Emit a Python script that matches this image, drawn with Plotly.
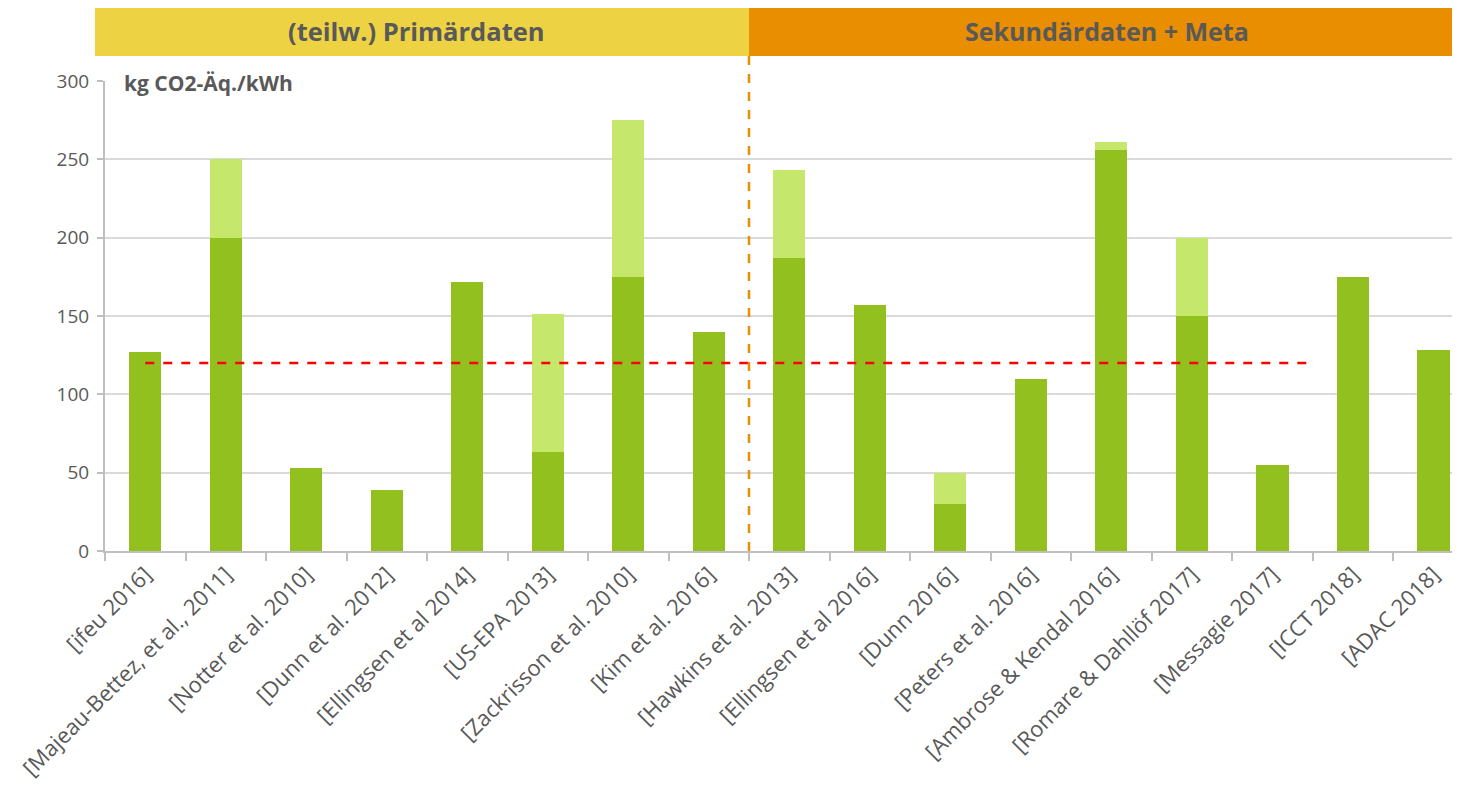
import plotly.graph_objects as go

categories = [
    "[ifeu 2016]", "[Majeau-Bettez, et al., 2011]", "[Notter et al. 2010]",
    "[Dunn et al. 2012]", "[Ellingsen et al 2014]", "[US-EPA 2013]",
    "[Zackrisson et al. 2010]", "[Kim et al. 2016]", "[Hawkins et al. 2013]",
    "[Ellingsen et al 2016]", "[Dunn 2016]", "[Peters et al. 2016]",
    "[Ambrose & Kendal 2016]", "[Romare & Dahllöf 2017]", "[Messagie 2017]",
    "[ICCT 2018]", "[ADAC 2018]",
]
base_values = [127, 200, 53, 39, 172, 63, 175, 140, 187, 157, 30, 110, 256, 150, 55, 175, 128]
upper_values = [None, 250, None, None, None, 151, 275, None, 243, None, 50, None, 261, 200, None, None, None]
reference_value = 120
group_labels = ["(teilw.) Primärdaten", "Sekundärdaten + Meta"]
y_label = "kg CO2-Äq./kWh"

extra_values = [(u - b) if u is not None else 0 for b, u in zip(base_values, upper_values)]

DARK_GREEN = "#92C01F"
LIGHT_GREEN = "#C5E76B"
TEXT = "#595959"
GRID = "#D9D9D9"
AXIS = "#BFBFBF"
FONT = "Open Sans"

OFF = 8  # page body margin
FIG_W, FIG_H = 1460 - OFF, 796 - 2 * OFF
L_PAGE, T_PAGE, H = 105, 81, 470
L = L_PAGE - OFF
T = T_PAGE - OFF
W = FIG_W - L

def px(p):
    return (p - L_PAGE) / W

def py(p):
    return (T_PAGE + H - p) / H

fig = go.Figure()
fig.add_trace(go.Bar(x=categories, y=base_values, marker_color=DARK_GREEN,
                     marker_line_width=0, width=0.4, showlegend=False))
fig.add_trace(go.Bar(x=categories, y=extra_values, marker_color=LIGHT_GREEN,
                     marker_line_width=0, width=0.4, showlegend=False))

# reference line (red dashed)
fig.add_trace(go.Scatter(x=[0, 14.5], y=[reference_value, reference_value], mode="lines",
                         line=dict(color="#FF0000", width=2.5, dash="dash"),
                         showlegend=False, hoverinfo="skip", xaxis="x2"))

split = px(749)
shapes = [
    dict(type="rect", xref="paper", yref="paper", x0=px(95), x1=1.0, y0=py(56), y1=py(8),
         fillcolor="#EDD244", line_width=0, layer="below"),
    dict(type="rect", xref="paper", yref="paper", x0=split, x1=1.0, y0=py(56), y1=py(8),
         fillcolor="#E88E00", line_width=0, layer="below"),
    dict(type="line", xref="paper", yref="paper", x0=split, x1=split, y0=py(56), y1=py(556),
         line=dict(color="#E88E00", width=2.5, dash="dash")),
]

annotations = [
    dict(text=f"<b>{group_labels[0]}</b>", xref="paper", yref="paper", x=px(416), y=py(31),
         xanchor="center", yanchor="middle",
         showarrow=False, font=dict(family=FONT, size=25.5, color=TEXT)),
    dict(text=f"<b>{group_labels[1]}</b>", xref="paper", yref="paper", x=px(1107), y=py(31),
         xanchor="center", yanchor="middle",
         showarrow=False, font=dict(family=FONT, size=25, color=TEXT)),
    dict(text=f"<b>{y_label}</b>", xref="paper", yref="paper", x=px(122), y=py(83),
         xanchor="left", yanchor="middle", showarrow=False, bgcolor="white",
         font=dict(family=FONT, size=21, color=TEXT)),
]

fig.update_layout(
    width=FIG_W, height=FIG_H,
    margin=dict(l=L, r=0, t=T, b=FIG_H - T - H, pad=0),
    barmode="stack",
    plot_bgcolor="white", paper_bgcolor="white",
    font=dict(family=FONT, size=19, color=TEXT),
    shapes=shapes, annotations=annotations,
    xaxis=dict(type="category", range=[-0.5, 16.33], tickangle=-45,
               showline=True, linecolor=AXIS, linewidth=2,
               ticks="outside", tickson="boundaries", ticklen=8, tickcolor=AXIS, tickwidth=1.5,
               showgrid=False, tickfont=dict(family=FONT, size=22, color=TEXT)),
    xaxis2=dict(overlaying="x", range=[-0.5, 16.33], visible=False),
    yaxis=dict(range=[0, 300], dtick=50, showgrid=True, gridcolor=GRID, gridwidth=2,
               showline=True, linecolor=AXIS, linewidth=2, zeroline=False,
               ticks="outside", ticklen=6, tickcolor=AXIS, tickwidth=1.5,
               tickfont=dict(family=FONT, size=19, color=TEXT), ticklabelstandoff=4),
)

fig.write_html("out.html")
